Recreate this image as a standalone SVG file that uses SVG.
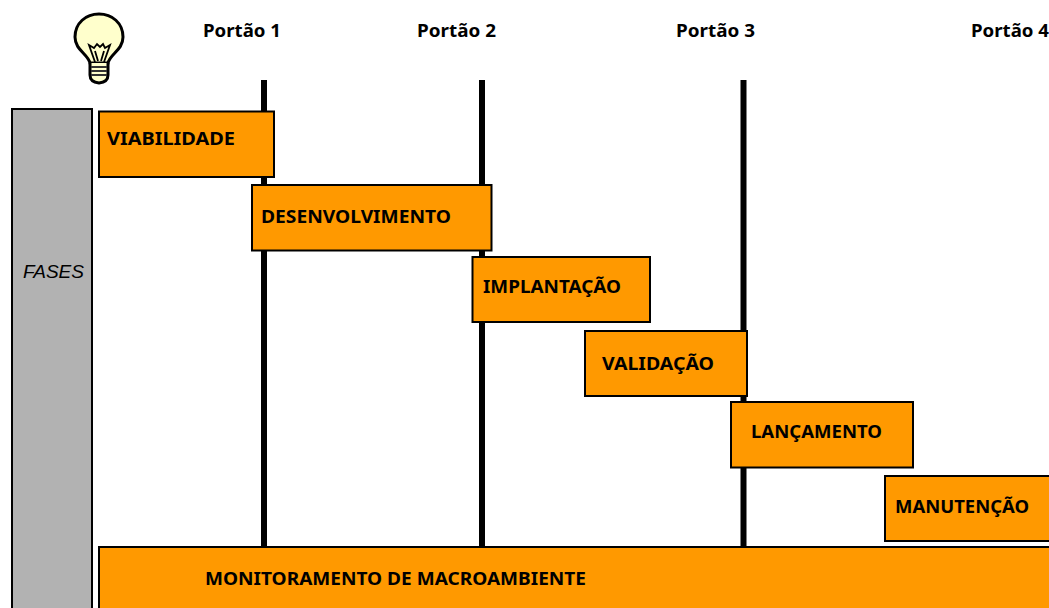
<svg xmlns="http://www.w3.org/2000/svg" width="1049" height="608" viewBox="0 0 1049 608">
<style>
.b{fill:#ff9900;stroke:#000;stroke-width:2}
.t{font-family:"Noto Sans","Liberation Sans",sans-serif;font-weight:700;font-size:17px;fill:#000}
.g{stroke:#000;stroke-width:6;fill:none}
</style>
<rect width="1049" height="608" fill="#fff"/>
<g id="connectors">
<line class="g" x1="264" y1="80" x2="264" y2="548"/>
<line class="g" x1="482" y1="80" x2="482" y2="548"/>
<line class="g" x1="743.500" y1="80" x2="743.500" y2="548"/>
</g>
<g id="bulb">
<path d="M90 63C88 54 75 50 75 37C75 23 86 14 99 14C112 14 123 23 123 37C123 50 110 54 108 63Z" fill="#ffffcc" stroke="#000" stroke-width="3"/>
<path d="M90 63V75Q90 82 99 83Q108 82 108 75V63" fill="#ffffcc" stroke="#000" stroke-width="3"/>
<path d="M91 67H107M91 71H107M91 75H107" stroke="#333" stroke-width="2" fill="none"/>
<path d="M95 62L89 45L94 48L97 44L100 47L103 44L105 48L110 45L104 62M98 61L95 51M101 61L104 51" fill="none" stroke="#000" stroke-width="1.800"/>
</g>
<g id="portao1"><text class="t" x="203" y="37" textLength="78" lengthAdjust="spacingAndGlyphs">Portão 1</text></g>
<g id="portao2"><text class="t" x="417" y="37" textLength="79" lengthAdjust="spacingAndGlyphs">Portão 2</text></g>
<g id="portao3"><text class="t" x="676" y="37" textLength="79" lengthAdjust="spacingAndGlyphs">Portão 3</text></g>
<g id="portao4"><text class="t" x="971" y="37" textLength="78" lengthAdjust="spacingAndGlyphs">Portão 4</text></g>
<g id="fases">
<rect x="12" y="109" width="80" height="510" fill="#b2b2b2" stroke="#000" stroke-width="2"/>
<text x="23" y="278" font-family="'Liberation Sans',sans-serif" font-style="italic" font-size="17.500" fill="#000" textLength="61" lengthAdjust="spacingAndGlyphs">FASES</text>
</g>
<g id="viabilidade"><rect class="b" x="99" y="111.500" width="175" height="65.500"/><text class="t" x="107" y="145" textLength="128" lengthAdjust="spacingAndGlyphs">VIABILIDADE</text></g>
<g id="desenvolvimento"><rect class="b" x="252" y="185" width="239.500" height="65.500"/><text class="t" x="261" y="223" textLength="190" lengthAdjust="spacingAndGlyphs">DESENVOLVIMENTO</text></g>
<g id="implantacao"><rect class="b" x="472.500" y="257" width="177.500" height="65"/><text class="t" x="483" y="293" textLength="138" lengthAdjust="spacingAndGlyphs">IMPLANTAÇÃO</text></g>
<g id="validacao"><rect class="b" x="585" y="331" width="162" height="65"/><text class="t" x="602" y="370" textLength="112" lengthAdjust="spacingAndGlyphs">VALIDAÇÃO</text></g>
<g id="lancamento"><rect class="b" x="731" y="402" width="182" height="65.500"/><text class="t" x="751" y="438" textLength="131" lengthAdjust="spacingAndGlyphs">LANÇAMENTO</text></g>
<g id="manutencao"><rect class="b" x="885" y="476" width="174" height="65"/><text class="t" x="895" y="513" textLength="134" lengthAdjust="spacingAndGlyphs">MANUTENÇÃO</text></g>
<g id="monitoramento"><rect class="b" x="99" y="547" width="970" height="80"/><text class="t" x="205" y="585" textLength="381" lengthAdjust="spacingAndGlyphs">MONITORAMENTO DE MACROAMBIENTE</text></g>
</svg>
